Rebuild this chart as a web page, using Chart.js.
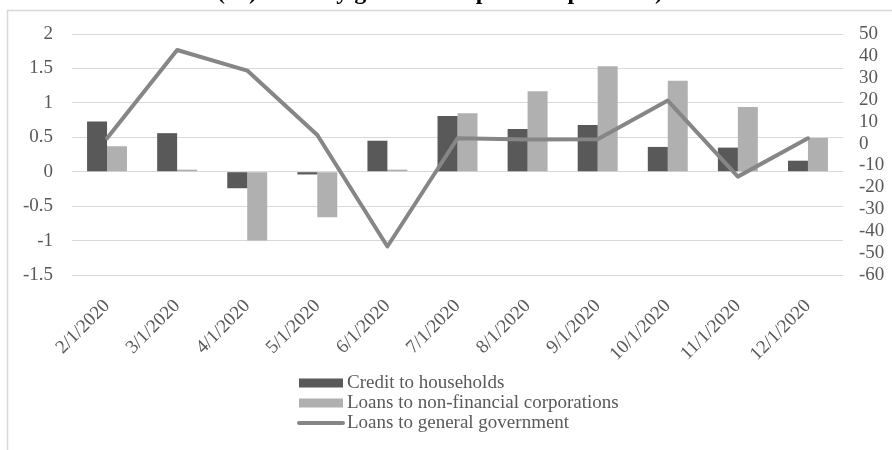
<!DOCTYPE html>
<html>
<head>
<meta charset="utf-8">
<script src="https://cdn.jsdelivr.net/npm/chart.js@4/dist/chart.umd.min.js"></script>
<style>
  html, body { margin: 0; padding: 0; background: #ffffff; }
  #wrap { position: relative; width: 892px; height: 450px; overflow: hidden; }
</style>
</head>
<body>
<div id="wrap"><canvas id="chart" width="892" height="450"></canvas></div>
<script>
// Monthly growth, 2020
const categories = ['2/1/2020', '3/1/2020', '4/1/2020', '5/1/2020', '6/1/2020', '7/1/2020',
                    '8/1/2020', '9/1/2020', '10/1/2020', '11/1/2020', '12/1/2020'];
const households   = [0.73, 0.56, -0.24, -0.04, 0.45, 0.81, 0.62, 0.68, 0.36, 0.35, 0.16];
const corporations = [0.37, 0.03, -1.00, -0.66, 0.03, 0.85, 1.17, 1.53, 1.32, 0.94, 0.49];
const government   = [2.4, 42.7, 33.3, 3.9, -47.0, 2.4, 1.8, 2.0, 19.6, -15.1, 2.4];
const leftTicks  = { min: -1.5, max: 2, step: 0.5 };
const rightTicks = { min: -60, max: 50, step: 10 };
const seriesNames = ['Credit to households', 'Loans to non-financial corporations', 'Loans to general government'];
const titleText = '(%) monthly growth compared to previous)';

const SERIF = '"Liberation Serif", "Times New Roman", serif';
const TEXT = '#595959';
const GRID = '#d9d9d9';

// Frame, clipped heading and stacked legend drawn straight onto the canvas
const decorations = {
  id: 'decorations',
  beforeDraw(chart) {
    const ctx = chart.ctx;
    ctx.save();
    ctx.fillStyle = '#ffffff';
    ctx.fillRect(0, 0, chart.width, chart.height);
    ctx.strokeStyle = GRID;
    ctx.lineWidth = 1.5;
    ctx.strokeRect(7.5, 10.5, chart.width + 20, chart.height + 20);
    ctx.fillStyle = '#000000';
    ctx.font = 'bold 24px ' + SERIF;
    ctx.textBaseline = 'alphabetic';
    ctx.textAlign = 'left';
    ctx.fillText(titleText, 217, -1);
    ctx.restore();
  },
  afterDraw(chart) {
    const ctx = chart.ctx;
    ctx.save();
    ctx.font = '19px ' + SERIF;
    ctx.textBaseline = 'middle';
    ctx.textAlign = 'left';
    chart.data.datasets.forEach((ds, i) => {
      const y = 383 + i * 20;
      if (ds.type === 'line') {
        ctx.strokeStyle = ds.borderColor;
        ctx.lineWidth = 4;
        ctx.lineCap = 'round';
        ctx.beginPath();
        ctx.moveTo(299, y);
        ctx.lineTo(343, y);
        ctx.stroke();
      } else {
        ctx.fillStyle = ds.backgroundColor;
        ctx.fillRect(299, y - 4.5, 44, 9);
      }
      ctx.fillStyle = TEXT;
      ctx.fillText(ds.label, 347, y);
    });
    ctx.restore();
  }
};

const plainNumber = v => String(Number(Number(v).toFixed(2)));

new Chart(document.getElementById('chart'), {
  data: {
    labels: categories,
    datasets: [
      { type: 'bar', label: seriesNames[0], data: households, yAxisID: 'y',
        backgroundColor: '#595959', order: 1,
        categoryPercentage: 0.57, barPercentage: 1.0 },
      { type: 'bar', label: seriesNames[1], data: corporations, yAxisID: 'y',
        backgroundColor: '#b0b0b0', order: 1,
        categoryPercentage: 0.57, barPercentage: 1.0 },
      { type: 'line', label: seriesNames[2], data: government, yAxisID: 'y1',
        borderColor: '#868686', borderWidth: 4, pointRadius: 0, tension: 0,
        borderJoinStyle: 'round', borderCapStyle: 'round', fill: false, order: 0 }
    ]
  },
  options: {
    responsive: false,
    animation: false,
    layout: { padding: { top: 34, bottom: 75, left: 0, right: 0 } },
    plugins: { legend: { display: false }, tooltip: { enabled: false }, title: { display: false } },
    scales: {
      x: {
        offset: true,
        grid: { display: false, drawTicks: false },
        border: { display: false },
        ticks: { color: TEXT, font: { family: SERIF, size: 19 }, maxRotation: 45, minRotation: 45, padding: 20, autoSkip: false },
        afterFit(scale) { scale.height = 100; }
      },
      y: {
        position: 'left',
        min: leftTicks.min, max: leftTicks.max,
        grid: { color: GRID, lineWidth: 1, drawTicks: false },
        border: { display: false },
        ticks: { stepSize: leftTicks.step, color: TEXT, font: { family: SERIF, size: 19 }, padding: 19,
                 autoSkip: false, callback: plainNumber },
        afterFit(scale) { scale.width = 72; }
      },
      y1: {
        position: 'right',
        min: rightTicks.min, max: rightTicks.max,
        grid: { display: false, drawTicks: false },
        border: { display: false },
        ticks: { stepSize: rightTicks.step, color: TEXT, font: { family: SERIF, size: 19 }, padding: 16,
                 autoSkip: false, callback: plainNumber },
        afterFit(scale) { scale.width = 49; }
      }
    }
  },
  plugins: [decorations]
});
</script>
</body>
</html>
